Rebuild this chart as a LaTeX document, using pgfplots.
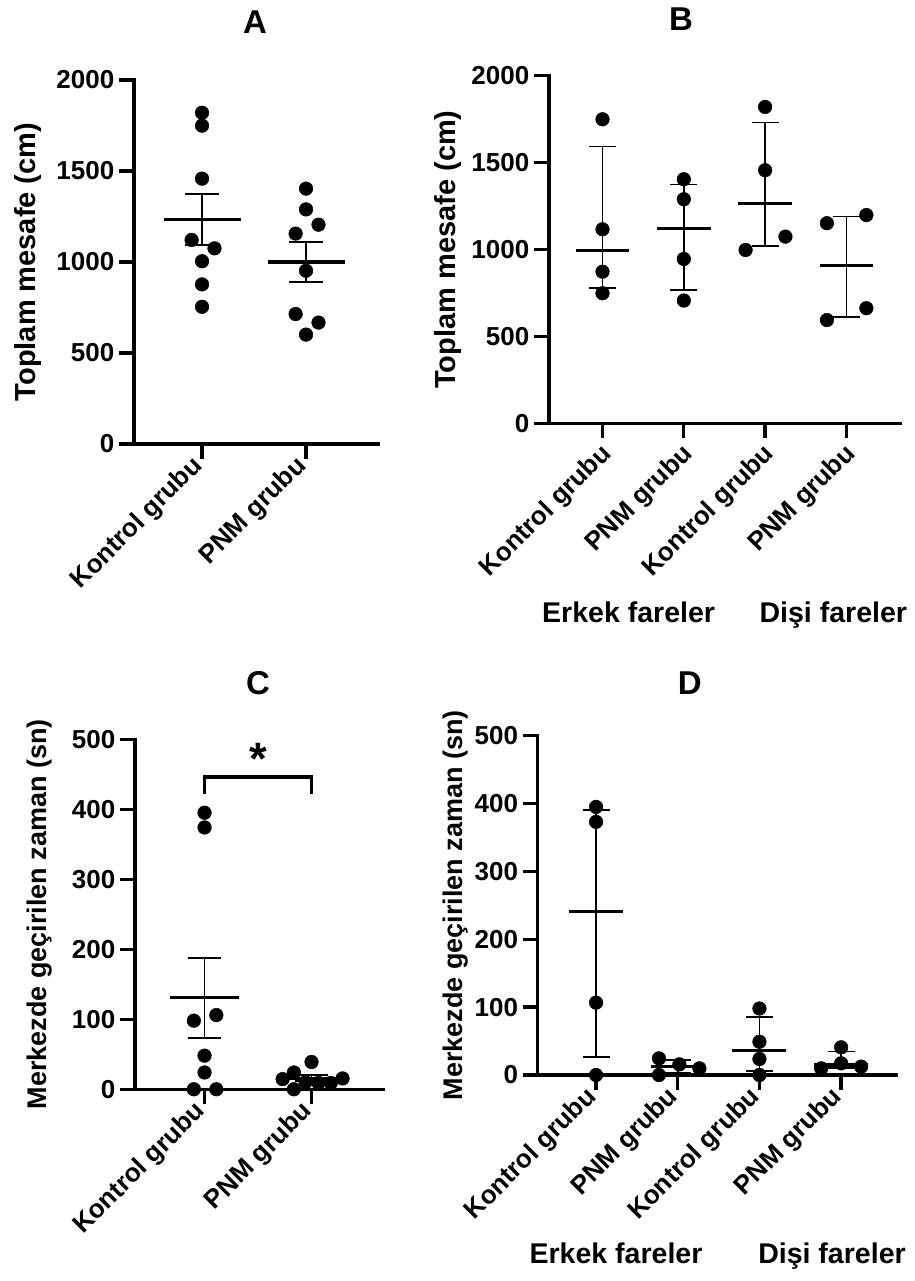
\documentclass[border=0pt]{standalone}
\usepackage{fontspec}
\setmainfont{Liberation Sans}
\usepackage{pgfplots}
\pgfplotsset{compat=1.18}

\newcommand{\tickfont}{\fontsize{19.5}{21}\selectfont\bfseries}
\newcommand{\labfont}{\fontsize{21.75}{24}\selectfont\bfseries}
\newcommand{\labfontC}{\fontsize{20.25}{22}\selectfont\bfseries}
\newcommand{\grpfont}{\fontsize{21.4}{24}\selectfont\bfseries}
\newcommand{\titlefont}{\fontsize{24.75}{27}\selectfont\bfseries}

\pgfplotsset{
  every axis title shift=0pt,
  gp/.style={
    scale only axis,
    axis x line*=bottom,
    axis y line*=left,
    axis line style={line width=2.5pt,-,line cap=rect},
    every tick/.style={line width=2.5pt,black},
    major tick length=11.25pt,
    tick align=outside,
    minor tick num=0,
    ymin=0,
    clip=false,
    unbounded coords=jump,
    yticklabel style={font=\tickfont},
    xticklabel style={font=\tickfont, rotate=45, anchor=east},
    title style={font=\titlefont, anchor=base},
    ylabel style={anchor=center},
  },
  pts/.style={only marks, mark=*, mark size=5.1pt, black, mark options={fill=black, draw=black}},
  meanl/.style={black, line width=2.3pt, no marks},
  errl/.style={black, line width=1.3pt, no marks},
}

\begin{document}
\begin{tikzpicture}
\useasboundingbox (0,0) rectangle (685.5pt,960.75pt);

% ---------------- Panel A ----------------
\begin{axis}[gp,
  at={(100.5pt,627.75pt)}, anchor=south west,
  width=183pt, height=273pt,
  xmin=-0.654, xmax=1.692, ymax=2000,
  xtick={0,1}, xticklabels={Kontrol grubu, PNM grubu},
  ytick={0,500,1000,1500,2000}, yticklabels={0,500,1000,1500,2000},
  title={A}, title style={at={(axis description cs:0.496,1.129)}},
  ylabel={Toplam mesafe (cm)}, ylabel style={font=\labfont, at={(axis description cs:-0.434,0.5)}},
]
\addplot[pts] coordinates {(0,1820) (0,1749) (0,1458) (-0.10,1121) (0.12,1075) (0,1004) (0,877) (0,754)};
\addplot[pts] coordinates {(1,1403) (1,1289) (1.12,1205) (0.90,1156) (1,952) (0.90,714) (1.12,667) (1,601)};
\addplot[meanl] coordinates {(-0.37,1235) (0.37,1235)};
\addplot[errl] coordinates {(0,1093) (0,1375) (0,nan) (-0.16,1375) (0.16,1375) (0,nan) (-0.16,1093) (0.16,1093)};
\addplot[meanl] coordinates {(0.63,1000) (1.37,1000)};
\addplot[errl] coordinates {(1,892) (1,1110) (1,nan) (0.84,1110) (1.16,1110) (1,nan) (0.84,892) (1.16,892)};
\end{axis}

% ---------------- Panel B ----------------
\begin{axis}[gp,
  at={(411.75pt,643.3pt)}, anchor=south west,
  width=263.25pt, height=260.7pt,
  xmin=-0.658, xmax=3.659, ymax=2000,
  xtick={0,1,2,3}, xticklabels={Kontrol grubu, PNM grubu, Kontrol grubu, PNM grubu},
  xticklabel style={yshift=-9pt},
  ytick={0,500,1000,1500,2000}, yticklabels={0,500,1000,1500,2000},
  title={B}, title style={at={(axis description cs:0.376,1.131)}},
  ylabel={Toplam mesafe (cm)}, ylabel style={font=\labfont, at={(axis description cs:-0.288,0.5)}},
]
\addplot[pts] coordinates {(0,1749) (0,1116) (0,872) (0,748)};
\addplot[pts] coordinates {(1,1404) (1,1289) (1,945) (1,706)};
\addplot[pts] coordinates {(2,1820) (2,1456) (2.25,1074) (1.76,997)};
\addplot[pts] coordinates {(3.245,1198) (2.76,1151) (3.245,662) (2.76,594)};
\addplot[meanl] coordinates {(-0.33,993) (0.33,993) (0,nan) (0.67,1118) (1.33,1118) (0,nan) (1.67,1264) (2.33,1264) (0,nan) (2.67,905) (3.33,905)};
\addplot[errl] coordinates {(0,777) (0,1592) (0,nan) (-0.165,1592) (0.165,1592) (0,nan) (-0.165,777) (0.165,777)};
\addplot[errl] coordinates {(1,767) (1,1373) (1,nan) (0.835,1373) (1.165,1373) (1,nan) (0.835,767) (1.165,767)};
\addplot[errl] coordinates {(2,1018) (2,1730) (2,nan) (1.835,1730) (2.165,1730) (2,nan) (1.835,1018) (2.165,1018)};
\addplot[errl] coordinates {(3,612) (3,1189) (3,nan) (2.835,1189) (3.165,1189) (3,nan) (2.835,612) (3.165,612)};
\end{axis}
\node[font=\grpfont, anchor=base] at (471.5pt,493.5pt) {Erkek fareler};
\node[font=\grpfont, anchor=base] at (625pt,493.5pt) {Dişi fareler};

% ---------------- Panel C ----------------
\begin{axis}[gp,
  at={(101.25pt,143.8pt)}, anchor=south west,
  width=186pt, height=262.5pt,
  xmin=-0.65, xmax=1.668, ymax=500,
  xtick={0,1}, xticklabels={Kontrol grubu, PNM grubu},
  ytick={0,100,200,300,400,500}, yticklabels={0,100,200,300,400,500},
  title={C}, title style={at={(axis description cs:0.496,1.127)}},
  ylabel={Merkezde geçirilen zaman (sn)}, ylabel style={font=\labfontC, at={(axis description cs:-0.383,0.5)}},
]
\addplot[pts] coordinates {(0,395) (0,374) (0.11,106) (-0.10,98) (0,48) (0,24) (-0.10,0) (0.11,0)};
\addplot[pts] coordinates {(1,39) (0.835,24) (0.73,14.5) (1.29,15.5) (1.18,9) (1.065,9) (0.944,10) (0.835,0)};
\addplot[meanl] coordinates {(-0.325,131) (0.325,131) (0,nan) (0.675,16) (1.325,16)};
\addplot[errl] coordinates {(0,73) (0,187) (0,nan) (-0.157,187) (0.157,187) (0,nan) (-0.157,73) (0.157,73)};
\addplot[errl] coordinates {(1,12) (1,20) (1,nan) (0.843,20) (1.157,20) (1,nan) (0.843,12) (1.157,12)};
\draw[line width=2.5pt] (axis cs:0,422) -- (axis cs:0,446) -- (axis cs:1,446) -- (axis cs:1,422);
\node[font=\fontsize{34}{36}\selectfont\bfseries, anchor=base] at (axis cs:0.5,449) {*};
\end{axis}

% ---------------- Panel D ----------------
\begin{axis}[gp,
  at={(403.3pt,154.5pt)}, anchor=south west,
  width=269.1pt, height=254.5pt,
  xmin=-0.714, xmax=3.678, ymax=500,
  xtick={0,1,2,3}, xticklabels={Kontrol grubu, PNM grubu, Kontrol grubu, PNM grubu},
  ytick={0,100,200,300,400,500}, yticklabels={0,100,200,300,400,500},
  title={D}, title style={at={(axis description cs:0.424,1.12)}},
  ylabel={Merkezde geçirilen zaman (sn)}, ylabel style={font=\labfontC, at={(axis description cs:-0.23,0.5)}},
]
\addplot[pts] coordinates {(0,395) (0,373) (0,106.6) (0,0)};
\addplot[pts] coordinates {(0.77,24.5) (0.77,0) (1.02,15.7) (1.265,9.8)};
\addplot[pts] coordinates {(2,98) (2,49) (2,23.6) (2,0)};
\addplot[pts] coordinates {(3,40.8) (3,17.2) (2.755,9.8) (3.245,12.3)};
\addplot[meanl] coordinates {(-0.33,240.6) (0.33,240.6) (0,nan) (0.67,12.8) (1.33,12.8) (0,nan) (1.67,36) (2.33,36) (0,nan) (2.67,14.75) (3.33,14.75)};
\addplot[errl] coordinates {(0,27) (0,390.5) (0,nan) (-0.165,390.5) (0.165,390.5) (0,nan) (-0.165,27) (0.165,27)};
\addplot[errl] coordinates {(1,2.5) (1,22.3) (1,nan) (0.835,22.3) (1.165,22.3) (1,nan) (0.835,2.5) (1.165,2.5)};
\addplot[errl] coordinates {(2,5.9) (2,86) (2,nan) (1.835,86) (2.165,86) (2,nan) (1.835,5.9) (2.165,5.9)};
\addplot[errl] coordinates {(3,10.4) (3,34.5) (3,nan) (2.835,34.5) (3.165,34.5) (3,nan) (2.835,10.4) (3.165,10.4)};
\end{axis}
\node[font=\grpfont, anchor=base] at (462pt,12.75pt) {Erkek fareler};
\node[font=\grpfont, anchor=base] at (624pt,12.75pt) {Dişi fareler};
\end{tikzpicture}
\end{document}
